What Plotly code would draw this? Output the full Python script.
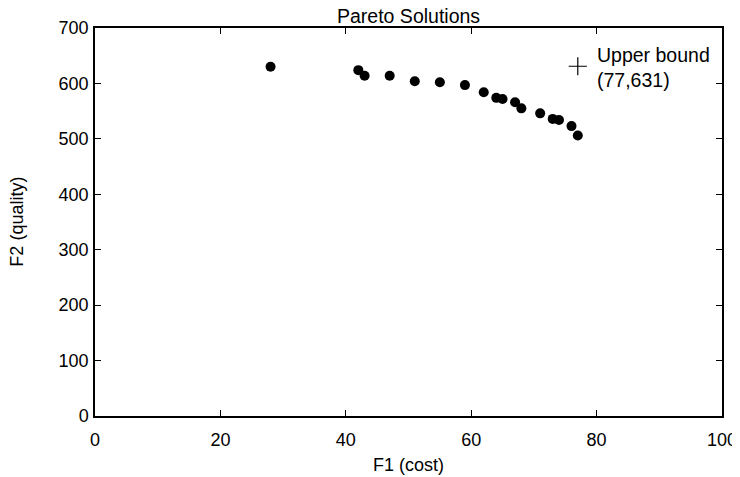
import plotly.graph_objects as go

cost = [28, 42, 43, 47, 51, 55, 59, 62, 64, 65, 67, 68, 71, 73, 74, 76, 77]
quality = [630, 624, 614, 614, 604, 602, 597, 584, 574, 572, 566, 555, 546, 536, 534, 523, 506]
upper_x = [77]
upper_y = [631]
x_ticks = [0, 20, 40, 60, 80, 100]
y_ticks = [0, 100, 200, 300, 400, 500, 600, 700]

FONT = "Liberation Sans, Arial, sans-serif"
FS = 18
FS_BIG = 19.5

fig = go.Figure()
fig.add_trace(go.Scatter(x=cost, y=quality, mode="markers",
                         marker=dict(color="black", size=10), showlegend=False))
fig.add_trace(go.Scatter(x=upper_x, y=upper_y, mode="markers",
                         marker=dict(symbol="cross-thin", size=13, color="black",
                                     line=dict(color="black", width=1.2)),
                         showlegend=False))

fig.add_annotation(x=upper_x[0], y=upper_y[0], xref="x", yref="y",
                   text="Upper bound<br>(%d,%d)" % (upper_x[0], upper_y[0]),
                   showarrow=False, xanchor="left", yanchor="middle", align="left",
                   xshift=17, yshift=-1,
                   font=dict(family=FONT, size=FS_BIG, color="black"))

fig.add_annotation(x=0.5, y=-0.095, xref="paper", yref="paper", text="F1 (cost)",
                   showarrow=False, xanchor="center", yanchor="top",
                   font=dict(family=FONT, size=FS, color="black"))
fig.add_annotation(x=-0.125, y=0.5, xref="paper", yref="paper", text="F2 (quality)",
                   showarrow=False, xanchor="center", yanchor="middle", textangle=-90,
                   font=dict(family=FONT, size=FS, color="black"))
fig.add_annotation(x=0.5, y=1.0, xref="paper", yref="paper", text="Pareto Solutions",
                   showarrow=False, xanchor="center", yanchor="bottom", yshift=0,
                   borderpad=0,
                   font=dict(family=FONT, size=FS_BIG, color="black"))

axis_common = dict(showgrid=False, zeroline=False, showline=True, linecolor="black",
                   linewidth=1.5, mirror="allticks", ticks="inside", ticklen=6,
                   tickcolor="black", tickwidth=1, automargin=False,
                   tickfont=dict(family=FONT, size=FS, color="black"))

fig.update_xaxes(range=[0, 100], tickvals=x_ticks, ticklabelstandoff=7, **axis_common)
fig.update_yaxes(range=[0, 700], tickvals=y_ticks, ticklabelstandoff=1, **axis_common)

# page body has an 8px default margin, so the figure is sized to land the axes where the reference has them
fig.update_layout(width=732, height=469, plot_bgcolor="white", paper_bgcolor="white",
                  margin=dict(l=87, r=18, t=20, b=61, autoexpand=False),
                  font=dict(family=FONT, size=FS, color="black"))

fig.write_html("out.html")
